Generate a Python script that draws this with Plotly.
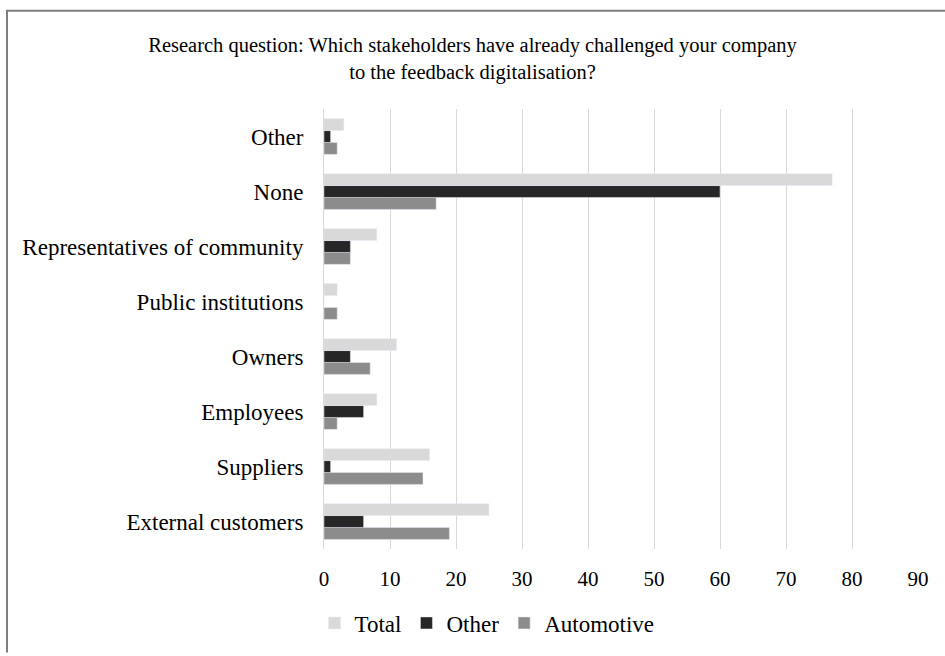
import plotly.graph_objects as go

categories = ["External customers", "Suppliers", "Employees", "Owners",
              "Public institutions", "Representatives of community", "None", "Other"]
total = [25, 16, 8, 11, 2, 8, 77, 3]
other = [6, 1, 6, 4, 0, 4, 60, 1]
automotive = [19, 15, 2, 7, 2, 4, 17, 2]

fig = go.Figure()
fig.add_trace(go.Bar(y=categories, x=automotive, name="Automotive", orientation="h",
                     marker=dict(color="#8c8c8c"), legendrank=3))
fig.add_trace(go.Bar(y=categories, x=other, name="Other", orientation="h",
                     marker=dict(color="#262626"), legendrank=2))
fig.add_trace(go.Bar(y=categories, x=total, name="Total", orientation="h",
                     marker=dict(color="#d9d9d9"), legendrank=1))

ff = "Liberation Serif"
L, R, T, B = 324, 27, 109, 101
W, H = 945 - L - R, 656 - T - B


def px(x):
    return (x - L) / W


def py(y):
    return (656 - B - y) / H


fig.update_layout(
    width=945, height=656,
    barmode="group", bargap=0.35, bargroupgap=0,
    paper_bgcolor="white", plot_bgcolor="white",
    font=dict(family=ff, size=23, color="#000000"),
    title=dict(text="Research question: Which stakeholders have already challenged your company<br>to the feedback digitalisation?",
               x=0.5, xanchor="center", y=1 - 52 / 656, yanchor="middle",
               font=dict(size=20.5, family=ff, color="#000000")),
    margin=dict(l=L, r=R, t=T, b=B),
    xaxis=dict(range=[0, 90], dtick=10, showgrid=True, gridcolor="#d9d9d9", gridwidth=1,
               zeroline=False, showline=False, ticks="", ticklabelstandoff=15,
               tickfont=dict(size=21, family=ff)),
    yaxis=dict(showgrid=False, showline=True, linecolor="#d9d9d9", linewidth=1,
               ticks="", ticklabelstandoff=15, tickfont=dict(size=23, family=ff),
               categoryorder="array", categoryarray=categories),
    legend=dict(orientation="h", x=px(487), xanchor="center", y=py(630), yanchor="middle",
                font=dict(size=23, family=ff), itemwidth=30, traceorder="normal"),
    shapes=[
        dict(type="line", xref="paper", yref="paper", x0=px(7), x1=px(7),
             y0=py(9.5), y1=py(660), line=dict(color="#7f7f7f", width=2)),
        dict(type="line", xref="paper", yref="paper", x0=px(6), x1=px(950),
             y0=py(9.5), y1=py(9.5), line=dict(color="#7f7f7f", width=2)),
    ],
)

fig.write_html("out.html")
